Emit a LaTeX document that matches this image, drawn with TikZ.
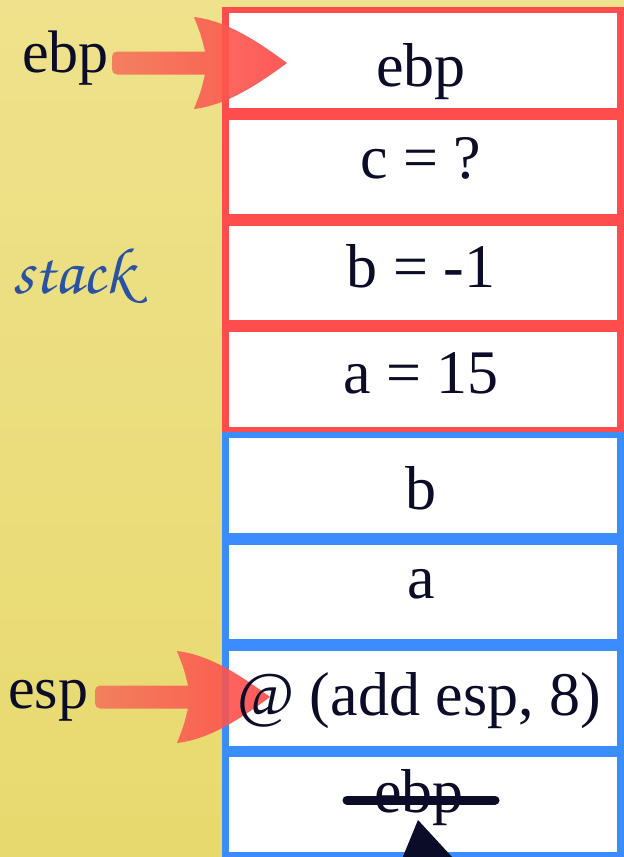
\documentclass[tikz,border=0pt]{standalone}
\usepackage[T1]{fontenc}
\usepackage{fontspec}
\setmainfont{Liberation Serif}
\definecolor{bgtop}{RGB}{238,226,140}
\definecolor{bgbot}{RGB}{232,217,110}
\definecolor{boxred}{RGB}{255,76,76}
\definecolor{boxblue}{RGB}{58,140,255}
\definecolor{ink}{RGB}{10,12,40}
\definecolor{arrowl}{RGB}{244,118,92}
\definecolor{arrowr}{RGB}{255,72,72}
\definecolor{stackblue}{RGB}{42,82,162}
\tikzset{
  cell/.style={draw, fill=white, line width=6.5pt, minimum width=395pt, minimum height=101pt, inner sep=0pt},
  redcell/.style={cell, draw=boxred},
  bluecell/.style={cell, draw=boxblue},
  celltext/.style={anchor=base, text=ink, inner sep=0pt, font=\fontsize{62}{70}\selectfont},
  sidelabel/.style={anchor=base west, text=ink, inner sep=0pt, font=\fontsize{60}{68}\selectfont},
  fatarrow/.style={left color=arrowl, right color=arrowr, opacity=0.9}
}
\newcommand\fatarrowpath{(-82,-11.5) .. controls (-86,-28) .. (-93,-46) .. controls (-60,-42) and (-30,-22) .. (0,0) .. controls (-30,22) and (-60,42) .. (-93,46) .. controls (-86,28) .. (-82,11.5) [rounded corners=5pt] -- (-175,11.5) -- (-175,-11.5) [sharp corners] -- cycle}
\begin{document}
\begin{tikzpicture}[x=1pt, y=-1pt]
\useasboundingbox (0,0) rectangle (624,857);
\shade[top color=bgtop, bottom color=bgbot] (0,0) rectangle (624,857);
% stack cells
\node[redcell]  (b1) at (423,60.5) {};
\node[redcell]  (b2) at (423,166.8) {};
\node[redcell]  (b3) at (423,273.1) {};
\node[redcell]  (b4) at (423,379.4) {};
\node[bluecell] (b5) at (423,485.7) {};
\node[bluecell] (b6) at (423,592.0) {};
\node[bluecell] (b7) at (423,698.3) {};
\node[bluecell] (b8) at (423,804.6) {};
% side labels
\node[sidelabel] (ebplbl) at (22,72) {ebp};
\node[sidelabel] (esplbl) at (8,708) {esp};
\node[anchor=base west, inner sep=0pt, text=stackblue] (stacklbl) at (12,293)
  {\fontencoding{T1}\fontfamily{pzc}\fontseries{mb}\fontshape{it}\fontsize{66}{72}\selectfont stack};
% fat arrows
\coordinate (ebptip) at (287,63);
\coordinate (esptip) at (270,697);
\shade[fatarrow, shift={(ebptip)}] \fatarrowpath;
\shade[fatarrow, shift={(esptip)}] \fatarrowpath;
% cell texts
\node[celltext] (t1) at (421,86.5) {ebp};
\node[celltext] (t2) at (421,178) {c = ?};
\node[celltext] (t3) at (421,287) {b = -1};
\node[celltext] (t4) at (421,393) {a = 15};
\node[celltext] (t5) at (421,509) {b};
\node[celltext] (t6) at (421,598) {a};
\node[celltext] (t7) at (419,715) {@ (add esp, 8)};
\node[celltext] (t8) at (419,812) {ebp};
% strike-through
\draw[ink, line width=9pt, line cap=round] (347,800) -- (495,800);
% arrow head entering from below
\fill[ink] (418,820) -- (397,871) -- (465,871) -- cycle;
\end{tikzpicture}
\end{document}
